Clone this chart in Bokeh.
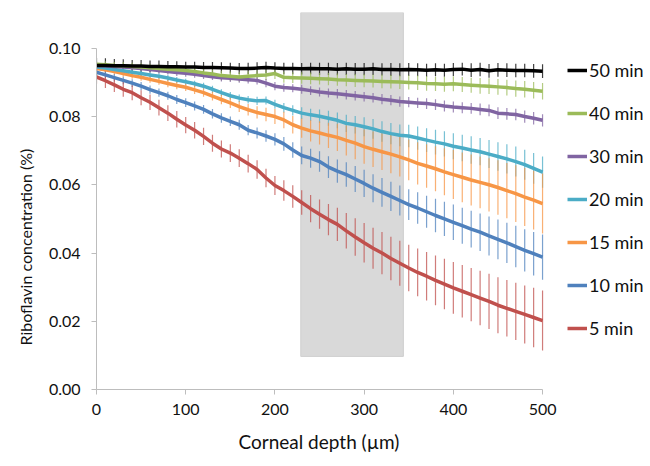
from bokeh.plotting import figure
from bokeh.models import (FixedTicker, NumeralTickFormatter, Legend, LegendItem, ColumnDataSource, Title)
from bokeh.embed import file_html
from bokeh.resources import INLINE

depth = list(range(0, 501, 10))

series_names = ["50 min", "40 min", "30 min", "20 min", "15 min", "10 min", "5 min"]
series_colors = ["#000000", "#9BBB59", "#8064A2", "#4BACC6", "#F79646", "#4F81BD", "#C0504D"]

conc_50 = [0.0950, 0.0950, 0.0949, 0.0949, 0.0948, 0.0948, 0.0947, 0.0947, 0.0946, 0.0946,
           0.0945, 0.0945, 0.0944, 0.0944, 0.0943, 0.0942, 0.0941, 0.0941, 0.0942, 0.0944,
           0.0942, 0.0941, 0.0941, 0.0940, 0.0941, 0.0940, 0.0940, 0.0939, 0.0940, 0.0939,
           0.0939, 0.0940, 0.0938, 0.0938, 0.0937, 0.0938, 0.0937, 0.0936, 0.0937, 0.0936,
           0.0938, 0.0939, 0.0936, 0.0938, 0.0934, 0.0937, 0.0936, 0.0935, 0.0935, 0.0934,
           0.0933]
conc_40 = [0.0953, 0.0952, 0.0950, 0.0949, 0.0947, 0.0945, 0.0943, 0.0941, 0.0939, 0.0937,
           0.0935, 0.0932, 0.0928, 0.0925, 0.0920, 0.0918, 0.0916, 0.0918, 0.0920, 0.0922,
           0.0926, 0.0915, 0.0914, 0.0913, 0.0912, 0.0911, 0.0910, 0.0908, 0.0907, 0.0906,
           0.0905, 0.0904, 0.0903, 0.0902, 0.0901, 0.0900, 0.0899, 0.0897, 0.0896, 0.0895,
           0.0896, 0.0894, 0.0892, 0.0890, 0.0889, 0.0887, 0.0885, 0.0882, 0.0880, 0.0877,
           0.0874]
conc_30 = [0.0950, 0.0949, 0.0947, 0.0945, 0.0943, 0.0941, 0.0938, 0.0935, 0.0932, 0.0929,
           0.0927, 0.0924, 0.0920, 0.0917, 0.0914, 0.0912, 0.0910, 0.0908, 0.0906, 0.0898,
           0.0889, 0.0885, 0.0883, 0.0880, 0.0876, 0.0872, 0.0869, 0.0867, 0.0864, 0.0861,
           0.0858, 0.0855, 0.0851, 0.0848, 0.0844, 0.0842, 0.0840, 0.0838, 0.0835, 0.0831,
           0.0828, 0.0826, 0.0824, 0.0821, 0.0818, 0.0810, 0.0808, 0.0806, 0.0800, 0.0795,
           0.0789]
conc_20 = [0.0945, 0.0942, 0.0938, 0.0934, 0.0930, 0.0926, 0.0922, 0.0918, 0.0913, 0.0907,
           0.0902, 0.0896, 0.0889, 0.0880, 0.0870, 0.0861, 0.0854, 0.0849, 0.0846, 0.0847,
           0.0836, 0.0826, 0.0818, 0.0810, 0.0805, 0.0801, 0.0795, 0.0789, 0.0780, 0.0776,
           0.0770, 0.0764, 0.0756, 0.0750, 0.0745, 0.0743, 0.0737, 0.0731, 0.0725, 0.0720,
           0.0713, 0.0708, 0.0702, 0.0697, 0.0690, 0.0683, 0.0676, 0.0668, 0.0659, 0.0648,
           0.0637]
conc_15 = [0.0941, 0.0937, 0.0932, 0.0926, 0.0920, 0.0915, 0.0909, 0.0903, 0.0897, 0.0891,
           0.0886, 0.0878, 0.0870, 0.0860, 0.0850, 0.0840, 0.0829, 0.0820, 0.0812, 0.0806,
           0.0800, 0.0790, 0.0776, 0.0766, 0.0758, 0.0752, 0.0745, 0.0739, 0.0730, 0.0722,
           0.0712, 0.0704, 0.0697, 0.0690, 0.0682, 0.0673, 0.0663, 0.0655, 0.0647, 0.0638,
           0.0630, 0.0622, 0.0614, 0.0607, 0.0600, 0.0592, 0.0583, 0.0574, 0.0564, 0.0555,
           0.0545]
conc_10 = [0.0930, 0.0922, 0.0914, 0.0906, 0.0898, 0.0889, 0.0879, 0.0870, 0.0861, 0.0850,
           0.0841, 0.0831, 0.0821, 0.0808, 0.0796, 0.0786, 0.0776, 0.0760, 0.0752, 0.0743,
           0.0733, 0.0720, 0.0702, 0.0686, 0.0678, 0.0668, 0.0652, 0.0640, 0.0630, 0.0617,
           0.0604, 0.0590, 0.0578, 0.0566, 0.0554, 0.0542, 0.0532, 0.0521, 0.0510, 0.0500,
           0.0490, 0.0480, 0.0470, 0.0461, 0.0450, 0.0440, 0.0430, 0.0419, 0.0408, 0.0398,
           0.0388]
conc_5 = [0.0916, 0.0905, 0.0893, 0.0880, 0.0870, 0.0855, 0.0842, 0.0826, 0.0810, 0.0792,
          0.0775, 0.0760, 0.0742, 0.0722, 0.0705, 0.0693, 0.0678, 0.0662, 0.0645, 0.0620,
          0.0598, 0.0583, 0.0566, 0.0548, 0.0530, 0.0514, 0.0498, 0.0484, 0.0465, 0.0447,
          0.0430, 0.0414, 0.0400, 0.0384, 0.0370, 0.0356, 0.0343, 0.0332, 0.0320, 0.0309,
          0.0298, 0.0288, 0.0278, 0.0268, 0.0258, 0.0247, 0.0238, 0.0229, 0.0220, 0.0211,
          0.0202]

err_50 = [0.0022, 0.0021, 0.0020, 0.0019, 0.0018, 0.0018, 0.0017, 0.0017, 0.0017, 0.0016, 0.0016,
          0.0016, 0.0016, 0.0016, 0.0016, 0.0016, 0.0016, 0.0017, 0.0017, 0.0017, 0.0017,
          0.0017, 0.0017, 0.0017, 0.0017, 0.0018, 0.0018, 0.0018, 0.0018, 0.0018, 0.0018,
          0.0018, 0.0018, 0.0019, 0.0019, 0.0019, 0.0019, 0.0019, 0.0019, 0.0019, 0.0019,
          0.0019, 0.0020, 0.0020, 0.0020, 0.0020, 0.0020, 0.0020, 0.0020, 0.0020, 0.0020]
err_40 = [0.0010, 0.0010, 0.0010, 0.0011, 0.0011, 0.0011, 0.0011, 0.0012, 0.0012, 0.0012, 0.0012,
          0.0013, 0.0013, 0.0013, 0.0014, 0.0014, 0.0014, 0.0015, 0.0015, 0.0015, 0.0016,
          0.0016, 0.0016, 0.0017, 0.0017, 0.0017, 0.0018, 0.0018, 0.0018, 0.0019, 0.0019,
          0.0019, 0.0020, 0.0020, 0.0020, 0.0021, 0.0021, 0.0021, 0.0021, 0.0022, 0.0022,
          0.0022, 0.0022, 0.0023, 0.0023, 0.0023, 0.0023, 0.0024, 0.0024, 0.0024, 0.0024]
err_30 = [0.0008, 0.0008, 0.0008, 0.0008, 0.0009, 0.0009, 0.0009, 0.0009, 0.0009, 0.0010, 0.0010,
          0.0010, 0.0010, 0.0010, 0.0011, 0.0011, 0.0011, 0.0011, 0.0012, 0.0012, 0.0012,
          0.0012, 0.0012, 0.0013, 0.0013, 0.0013, 0.0013, 0.0014, 0.0014, 0.0014, 0.0014,
          0.0014, 0.0015, 0.0015, 0.0015, 0.0015, 0.0015, 0.0016, 0.0016, 0.0016, 0.0016,
          0.0016, 0.0016, 0.0017, 0.0017, 0.0017, 0.0017, 0.0017, 0.0018, 0.0018, 0.0018]
err_20 = [0.0007, 0.0007, 0.0007, 0.0008, 0.0008, 0.0008, 0.0008, 0.0009, 0.0009, 0.0009, 0.0009,
          0.0009, 0.0010, 0.0010, 0.0010, 0.0011, 0.0011, 0.0011, 0.0012, 0.0012, 0.0013,
          0.0014, 0.0015, 0.0017, 0.0018, 0.0020, 0.0022, 0.0023, 0.0025, 0.0026, 0.0028,
          0.0029, 0.0030, 0.0031, 0.0032, 0.0033, 0.0034, 0.0035, 0.0036, 0.0037, 0.0038,
          0.0039, 0.0040, 0.0040, 0.0041, 0.0042, 0.0043, 0.0044, 0.0044, 0.0045, 0.0046]
err_15 = [0.0008, 0.0008, 0.0009, 0.0009, 0.0009, 0.0010, 0.0010, 0.0010, 0.0011, 0.0011, 0.0011,
          0.0012, 0.0012, 0.0013, 0.0014, 0.0015, 0.0016, 0.0017, 0.0018, 0.0020, 0.0022,
          0.0024, 0.0026, 0.0028, 0.0031, 0.0034, 0.0037, 0.0040, 0.0044, 0.0047, 0.0050,
          0.0052, 0.0054, 0.0056, 0.0058, 0.0060, 0.0062, 0.0064, 0.0066, 0.0069, 0.0072,
          0.0073, 0.0075, 0.0076, 0.0078, 0.0080, 0.0081, 0.0083, 0.0085, 0.0086, 0.0088]
err_10 = [0.0010, 0.0010, 0.0011, 0.0011, 0.0011, 0.0012, 0.0012, 0.0012, 0.0012, 0.0013, 0.0013,
          0.0013, 0.0013, 0.0014, 0.0014, 0.0014, 0.0015, 0.0015, 0.0016, 0.0017, 0.0018,
          0.0020, 0.0023, 0.0026, 0.0028, 0.0030, 0.0032, 0.0034, 0.0036, 0.0038, 0.0040,
          0.0041, 0.0042, 0.0043, 0.0044, 0.0045, 0.0046, 0.0047, 0.0049, 0.0050, 0.0052,
          0.0053, 0.0054, 0.0055, 0.0057, 0.0058, 0.0059, 0.0061, 0.0062, 0.0064, 0.0066]
err_5 = [0.0020, 0.0021, 0.0021, 0.0022, 0.0022, 0.0022, 0.0023, 0.0023, 0.0023, 0.0024, 0.0024,
         0.0024, 0.0025, 0.0025, 0.0025, 0.0026, 0.0026, 0.0026, 0.0027, 0.0027, 0.0028,
         0.0030, 0.0033, 0.0036, 0.0040, 0.0043, 0.0046, 0.0049, 0.0052, 0.0055, 0.0058,
         0.0060, 0.0062, 0.0064, 0.0066, 0.0068, 0.0070, 0.0071, 0.0073, 0.0074, 0.0076,
         0.0077, 0.0078, 0.0080, 0.0081, 0.0082, 0.0083, 0.0084, 0.0085, 0.0087, 0.0088]

shade_left = 229
shade_right = 344
shade_bottom = 0.0097
shade_top = 0.1105

y_ticks = [0.0, 0.02, 0.04, 0.06, 0.08, 0.10]
x_ticks = [0, 100, 200, 300, 400, 500]
x_title = "Corneal depth (µm)"
y_title = "Riboflavin concentration (%)"

all_conc = [conc_50, conc_40, conc_30, conc_20, conc_15, conc_10, conc_5]
all_err = [err_50, err_40, err_30, err_20, err_15, err_10, err_5]

FONT = "Lato"

p = figure(width=650, height=466, output_backend="svg", toolbar_location=None,
           x_range=(0, 621), y_range=(0, 0.1105),
           min_border_left=96, min_border_right=0, min_border_top=12, min_border_bottom=77)
p.outline_line_color = None
p.xgrid.visible = False
p.ygrid.visible = False
p.background_fill_color = "white"
p.border_fill_color = "white"

p.quad(left=[shade_left], right=[shade_right], bottom=[shade_bottom], top=[shade_top],
       fill_color="#d9d9d9", line_color="#cfcfcf", line_width=1)

renderers = []
for name, color, conc, err in zip(series_names, series_colors, all_conc, all_err):
    lo = [c - e for c, e in zip(conc, err)]
    hi = [c + e for c, e in zip(conc, err)]
    src = ColumnDataSource(dict(x=depth, y=conc, lo=lo, hi=hi))
    p.segment(x0="x", y0="lo", x1="x", y1="hi", source=src, line_color=color,
              line_width=1.2, line_alpha=0.75)
    renderers.append((name, color, src))

line_rs = []
for name, color, src in reversed(renderers):
    r = p.line(x="x", y="y", source=src, line_color=color, line_width=3.5)
    line_rs.append((name, r))
line_rs.reverse()

legend = Legend(items=[LegendItem(label=n, renderers=[r]) for n, r in line_rs],
                location=(471, 50), glyph_width=20, glyph_height=20, label_height=20,
                spacing=21, label_standoff=2, padding=0, margin=0,
                border_line_color=None, background_fill_alpha=0,
                label_text_font=FONT, label_text_font_size="18px",
                label_text_color="#111111")
p.add_layout(legend, "center")

for ax in (p.xaxis[0], p.yaxis[0]):
    ax.axis_line_color = "#bdbdbd"
    ax.major_tick_line_color = "#bdbdbd"
    ax.minor_tick_line_color = None
    ax.major_tick_out = 5
    ax.major_tick_in = 0
    ax.major_label_text_font = FONT
    ax.major_label_text_font_size = "16px"
    ax.major_label_text_color = "#111111"

p.xaxis[0].ticker = FixedTicker(ticks=x_ticks)
p.xaxis[0].bounds = (0, 500)
p.xaxis[0].major_label_standoff = 9

p.yaxis[0].ticker = FixedTicker(ticks=y_ticks)
p.yaxis[0].bounds = (0, 0.1)
p.yaxis[0].formatter = NumeralTickFormatter(format="0.00")
p.yaxis[0].major_label_standoff = 11

# axis titles, placed so they are centred on the drawn axis extents
xt = Title(text=x_title, align="left", offset=142, standoff=21,
           text_font=FONT, text_font_size="19px", text_font_style="normal",
           text_color="#111111")
p.add_layout(xt, "below")
yt = Title(text=y_title, align="left", offset=44, standoff=22,
           text_font=FONT, text_font_size="16px", text_font_style="normal",
           text_color="#111111")
p.add_layout(yt, "left")

open("out.html", "w").write(file_html(p, INLINE))
